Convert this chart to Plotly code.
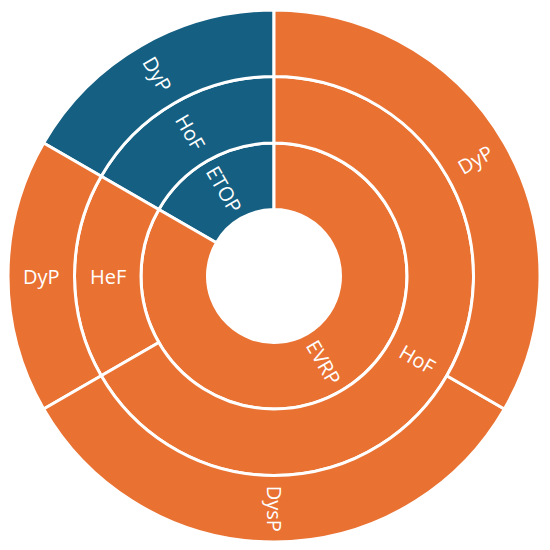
import math
import plotly.graph_objects as go

ids = ["root", "ETOP", "EVRP", "ETOP/HoF", "EVRP/HeF", "EVRP/HoF",
       "ETOP/HoF/DyP", "EVRP/HeF/DyP", "EVRP/HoF/DysP", "EVRP/HoF/DyP"]
labels = ["", "ETOP", "EVRP", "HoF", "HeF", "HoF", "DyP", "DyP", "DysP", "DyP"]
parents = ["", "root", "root", "ETOP", "EVRP", "EVRP",
           "ETOP/HoF", "EVRP/HeF", "EVRP/HoF", "EVRP/HoF"]
values = [36, 6, 30, 6, 6, 24, 6, 6, 12, 12]

orange = "#E97132"
blue = "#156082"
colors = ["white"] + [orange if i.startswith("EVRP") else blue for i in ids[1:]]

fig = go.Figure(go.Sunburst(
    ids=ids, labels=labels, parents=parents, values=values,
    branchvalues="total", sort=False, rotation=90,
    marker=dict(colors=colors, line=dict(color="white", width=3)),
    leaf=dict(opacity=1),
    textinfo="none", hoverinfo="label",
))

# labels: radial text at the middle of each sector (same layout as the sunburst:
# counterclockwise from 12 o'clock, in list order)
val = dict(zip(ids, values))
depth = {"root": 0}
span = {"root": (90.0, 450.0)}
used = {}
for i, p in zip(ids[1:], parents[1:]):
    a0, a1 = span[p]
    start = a0 + used.get(p, 0) / val[p] * (a1 - a0)
    end = start + val[i] / val[p] * (a1 - a0)
    used[p] = used.get(p, 0) + val[i]
    span[i] = (start, end)
    depth[i] = depth[p] + 1

nlev = max(depth.values()) + 1
for i, lab in zip(ids[1:], labels[1:]):
    phi = sum(span[i]) / 2
    r = 0.5 * (depth[i] + 0.5) / nlev
    ang = (-phi) % 180
    if ang > 90:
        ang -= 180
    fig.add_annotation(
        x=0.5 + r * math.cos(math.radians(phi)),
        y=0.5 + r * math.sin(math.radians(phi)),
        xref="paper", yref="paper", xanchor="center", yanchor="middle",
        text=lab, showarrow=False, textangle=ang,
        font=dict(family="Open Sans", size=20, color="white"),
    )

fig.update_layout(
    width=550, height=550,
    margin=dict(l=0, r=18, t=2, b=16),
    paper_bgcolor="white",
)
fig.write_html("out.html")
